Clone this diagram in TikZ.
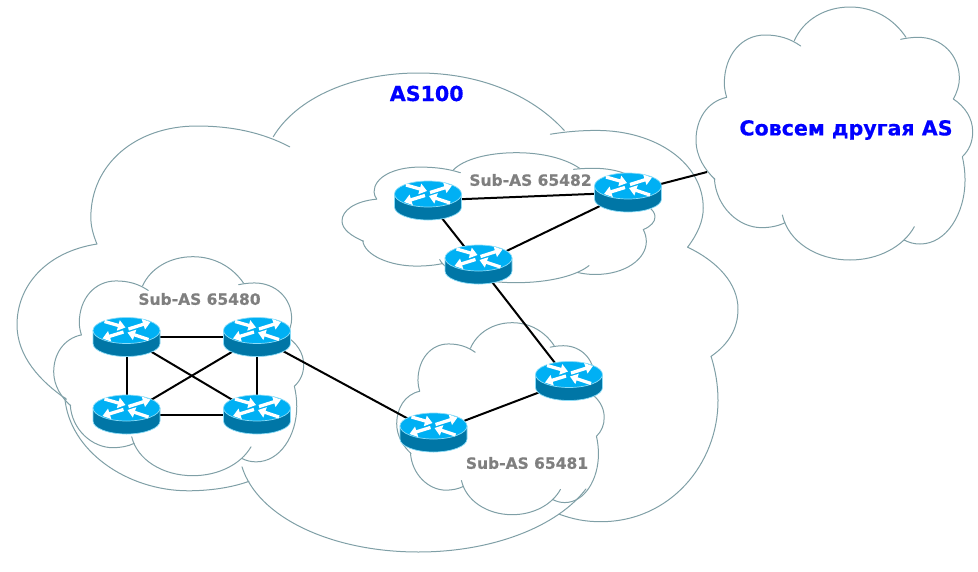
\documentclass[tikz,border=0pt]{standalone}
\usepackage{fontspec}
\setmainfont{DejaVu Sans}[BoldFeatures={FakeBold=0.5}]
\usetikzlibrary{arrows.meta}
\definecolor{cloudline}{HTML}{7F9FA6}
\definecolor{routertop}{HTML}{00B0F4}
\definecolor{routerbody}{HTML}{0076A6}
\definecolor{routerrim}{HTML}{8ADCF8}
\definecolor{subgrey}{HTML}{7F7F7F}
\definecolor{asblue}{HTML}{0000FF}
\tikzset{
  x=1pt,y=-1pt,
  cloudstroke/.style={draw=cloudline,line width=1pt,line cap=round,line join=round},
  routerbox/.style={inner sep=0pt,minimum width=67pt,minimum height=39pt},
  link/.style={draw=black,line width=2pt},
  subas/.style={font=\bfseries\fontsize{15.5}{18}\selectfont,text=subgrey,inner sep=0pt},
  asname/.style={font=\bfseries\fontsize{20.6}{24}\selectfont,text=asblue,inner sep=0pt},
  flow/.style={draw=white,line width=3.3pt,-{Triangle[length=7.5pt,width=10.5pt]}},
}
\newcommand{\cloudshape}[4]{%
  \begin{scope}[shift={(#1,#2)},xscale=#3/830,yscale=#4/759,shift={(-48,-21)}]
    \draw[cloudstroke] (140,292) .. controls (80,305) and (48,360) .. (48,420) .. controls (48,470) and (75,510) .. (105,538);
    \draw[cloudstroke] (103,535) .. controls (108,620) and (175,683) .. (245,683) .. controls (270,683) and (295,678) .. (315,668);
    \draw[cloudstroke] (307,645) .. controls (325,725) and (410,780) .. (510,780) .. controls (595,780) and (670,740) .. (703,680);
    \draw[cloudstroke] (672,720) .. controls (688,728) and (702,732) .. (720,732) .. controls (800,732) and (855,640) .. (855,540) .. controls (855,515) and (852,492) .. (847,470);
    \draw[cloudstroke] (847,470) .. controls (868,450) and (878,425) .. (878,395) .. controls (878,355) and (855,320) .. (820,297);
    \draw[cloudstroke] (820,297) .. controls (832,275) and (838,255) .. (838,235) .. controls (838,165) and (785,112) .. (715,112) .. controls (697,112) and (680,114) .. (662,118);
    \draw[cloudstroke] (678,112) .. controls (640,55) and (580,21) .. (510,21) .. controls (435,21) and (370,60) .. (343,122);
    \draw[cloudstroke] (362,138) .. controls (330,115) and (295,105) .. (255,105) .. controls (185,105) and (133,165) .. (133,250) .. controls (133,265) and (136,278) .. (140,292);
  \end{scope}}
\newcommand{\routericon}[1]{%
  \begin{scope}[shift={(#1.center)}]
    \fill[routerbody,draw=routerrim,line width=0.7pt] (-33.5,-6.5) -- (-33.5,6.5) arc[start angle=180,end angle=360,x radius=33.5,y radius=-13] -- (33.5,-6.5) -- cycle;
    \fill[routertop,draw=routerrim,line width=0.7pt] (0,-6.5) ellipse[x radius=33.5,y radius=13];
    \draw[flow] (-22,-15.5) -- (-1,-9.5);
    \draw[flow] (2,-8) -- (24,-15);
    \draw[flow] (-3,-5) -- (-24,1.5);
    \draw[flow] (22,2.5) -- (1,-4.5);
  \end{scope}}
\begin{document}
\begin{tikzpicture}
  \useasboundingbox (0,0) rectangle (978,571);
  % clouds
  \cloudshape{17}{73}{721}{479}
  \cloudshape{696}{7}{276.7}{253}
  \cloudshape{53.7}{256.7}{250}{219}
  \cloudshape{342}{152.7}{313}{130}
  \cloudshape{396.7}{322.7}{207.5}{192}
  % routers (anchors)
  \node[routerbox] (ra) at (126.5,337) {};
  \node[routerbox] (rb) at (257,337) {};
  \node[routerbox] (rc) at (126.5,414.5) {};
  \node[routerbox] (rd) at (257,414.5) {};
  \node[routerbox] (re) at (428,200.5) {};
  \node[routerbox] (rf) at (478.5,264.5) {};
  \node[routerbox] (rg) at (628,192.5) {};
  \node[routerbox] (rh) at (569,381) {};
  \node[routerbox] (ri) at (433.5,432.5) {};
  \coordinate (otheredge) at (707,172);
  % connectors
  \draw[link] (ra.center) -- (rb.center);
  \draw[link] (ra.center) -- (rc.center);
  \draw[link] (ra.center) -- (rd.center);
  \draw[link] (rb.center) -- (rc.center);
  \draw[link] (rb.center) -- (rd.center);
  \draw[link] (rc.center) -- (rd.center);
  \draw[link] (rb.center) -- (ri.center);
  \draw[link] (ri.center) -- (rh.center);
  \draw[link] (rh.center) -- (rf.center);
  \draw[link] (rf.center) -- (re.center);
  \draw[link] (rf.center) -- (rg.center);
  \draw[link] (re.center) -- (rg.center);
  \draw[link] (rg.center) -- (otheredge);
  % icons
  \routericon{ra}\routericon{rb}\routericon{rc}\routericon{rd}
  \routericon{re}\routericon{rf}\routericon{rg}\routericon{rh}\routericon{ri}
  % labels
  \node[asname] (las) at (426.7,93.5) {AS100};
  \node[asname] (lother) at (846,130) {Совсем другая AS};
  \node[subas] (lsa) at (199.5,299) {Sub-AS 65480};
  \node[subas] (lsb) at (530.5,180) {Sub-AS 65482};
  \node[subas] (lsc) at (527,463) {Sub-AS 65481};
\end{tikzpicture}
\end{document}
